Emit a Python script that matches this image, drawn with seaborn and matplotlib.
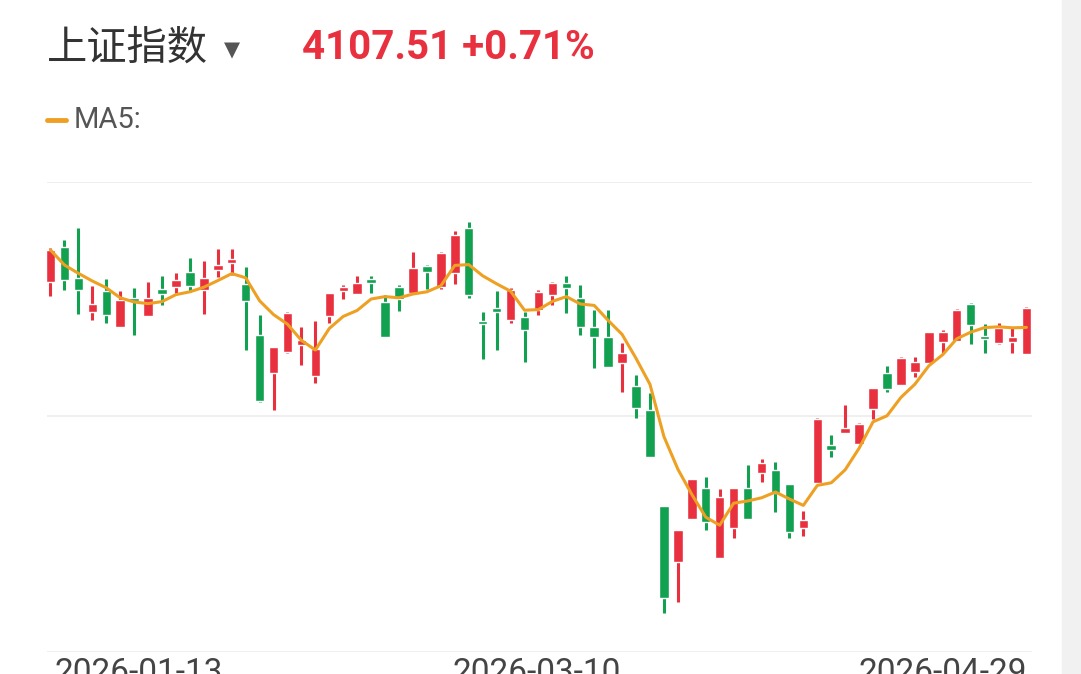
import numpy as np
import pandas as pd
import matplotlib
matplotlib.use("Agg")
import matplotlib.pyplot as plt
import seaborn as sns

# daily OHLC
opens = [4118, 4153, 4122, 4088, 4109, 4073, 4102, 4084, 4111, 4113, 4128, 4110, 4130, 4137, 4116,
         4065, 4027, 4048, 4055, 4024, 4084, 4109, 4106, 4121, 4098, 4113, 4107, 4134, 4113, 4127,
         4172, 4079, 4092, 4080, 4083, 4090, 4105, 4117, 4102, 4073, 4063, 4037, 4014, 3990, 3894,
         3838, 3881, 3912, 3842, 3872, 3912, 3927, 3930, 3916, 3872, 3917, 3955, 3967, 3956, 3991,
         4027, 4015, 4028, 4037, 4058, 4059, 4096, 4064, 4057, 4058, 4046]
highs = [4152, 4160, 4172, 4114, 4121, 4109, 4112, 4118, 4124, 4127, 4142, 4139, 4151, 4151, 4133,
         4085, 4053, 4088, 4073, 4079, 4107, 4115, 4124, 4124, 4105, 4115, 4148, 4135, 4148, 4169,
         4178, 4088, 4109, 4112, 4088, 4110, 4118, 4124, 4115, 4090, 4090, 4057, 4025, 4007, 3894,
         3870, 3921, 3923, 3911, 3912, 3935, 3941, 3938, 3916, 3889, 3982, 3965, 3995, 3977, 4012,
         4034, 4043, 4043, 4068, 4070, 4091, 4097, 4076, 4077, 4072, 4093]
lows = [4104, 4110, 4086, 4080, 4077, 4073, 4065, 4084, 4095, 4107, 4108, 4086, 4123, 4125, 4050,
        3998, 3990, 4047, 4035, 4017, 4077, 4101, 4106, 4107, 4063, 4089, 4107, 4111, 4111, 4116,
        4102, 4041, 4050, 4077, 4038, 4085, 4095, 4087, 4065, 4032, 4033, 4008, 3982, 3943, 3787,
        3798, 3881, 3870, 3842, 3862, 3881, 3918, 3888, 3862, 3864, 3917, 3943, 3967, 3956, 3981,
        4008, 4015, 4023, 4037, 4047, 4059, 4056, 4047, 4056, 4047, 4046]
closes = [4150, 4120, 4110, 4096, 4085, 4100, 4099, 4102, 4106, 4120, 4114, 4122, 4135, 4141, 4099,
          3999, 4053, 4087, 4060, 4051, 4107, 4113, 4117, 4117, 4063, 4101, 4132, 4128, 4147, 4165,
          4105, 4076, 4088, 4110, 4070, 4108, 4117, 4112, 4073, 4063, 4033, 4047, 3992, 3943, 3802,
          3870, 3921, 3878, 3903, 3912, 3881, 3937, 3907, 3868, 3880, 3981, 3950, 3972, 3976, 4012,
          4011, 4042, 4038, 4068, 4068, 4090, 4075, 4061, 4072, 4063, 4092]
tick_labels = ["2026-01-13", "2026-03-10", "2026-04-29"]

RED = "#e8303f"
GREEN = "#12a150"
ORANGE = "#eea023"

df = pd.DataFrame({"open": opens, "high": highs, "low": lows, "close": closes})
df["idx"] = np.arange(len(df))
df["ma5"] = df["close"].rolling(5, min_periods=1).mean()
df["color"] = np.where(df["close"] >= df["open"], RED, GREEN)

sns.set_style("white")
plt.rcParams["font.family"] = ["Noto Sans CJK SC", "DejaVu Sans"]

W, H = 1081, 674
fig = plt.figure(figsize=(W / 100, H / 100), dpi=100)
fig.patch.set_facecolor("white")
# light side band of the screenshot
fig.patches.append(plt.Rectangle((1062 / W, 0), 19 / W, 1, transform=fig.transFigure,
                                 color="#f1f1f1", zorder=0))
ax = fig.add_axes([47 / W, 1 - 652 / H, (1032 - 47) / W, (652 - 182) / H])
ax.set_facecolor("none")

# candles
ax.vlines(df["idx"], df["low"], df["high"], colors=df["color"], linewidth=2.2, zorder=2)
body_lo = np.minimum(df["open"], df["close"])
body_h = np.maximum(np.abs(df["close"] - df["open"]), 2.5)
ax.bar(df["idx"], body_h, bottom=body_lo, width=0.68, color=df["color"], zorder=3)

sns.lineplot(data=df, x="idx", y="ma5", color=ORANGE, linewidth=2.2, ax=ax, zorder=4)

ax.set_xlim(-0.25, 70.4)
ax.set_ylim(3748, 4218)
for y in [3748, 3984, 4218]:
    ax.axhline(y, color="#ececec", linewidth=1.2, zorder=1)
for s in ax.spines.values():
    s.set_visible(False)
ax.set_xticks([])
ax.set_yticks([])
ax.set_xlabel("")
ax.set_ylabel("")

# header texts
fig.text(47 / W, 1 - 48 / H, "上证指数", fontsize=29, color="#333333", va="center")
fig.text(224 / W, 1 - 50 / H, "▼", fontsize=15, color="#555555", va="center",
         family=["DejaVu Sans"])
fig.text(302 / W, 1 - 48 / H, "4107.51 +0.71%", fontsize=29, color=RED, va="center",
         fontweight="bold", family=["Roboto", "DejaVu Sans"])
fig.add_artist(plt.Line2D([47 / W, 66 / W], [1 - 120 / H, 1 - 120 / H], color=ORANGE,
                          linewidth=3.5, transform=fig.transFigure))
fig.text(74 / W, 1 - 120 / H, "MA5:", fontsize=21, color="#555555", va="center",
         family=["Roboto", "DejaVu Sans"])

# date labels near the bottom edge
lab = dict(fontsize=24, color="#444444", va="top", family=["Roboto", "DejaVu Sans"])
fig.text(55 / W, 1 - 657 / H, tick_labels[0], ha="left", **lab)
fig.text(537 / W, 1 - 657 / H, tick_labels[1], ha="center", **lab)
fig.text(1027 / W, 1 - 657 / H, tick_labels[2], ha="right", **lab)

fig.savefig("out.png", dpi=100)
